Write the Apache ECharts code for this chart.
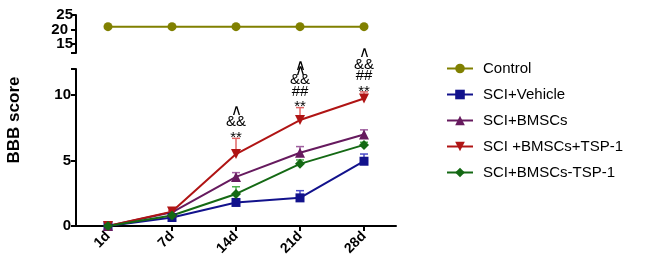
<!DOCTYPE html>
<html>
<head>
<meta charset="utf-8">
<script src="https://cdn.jsdelivr.net/npm/echarts@6/dist/echarts.min.js"></script>
<style>
  html, body { margin: 0; padding: 0; background: #fff; }
  #main { width: 650px; height: 271px; }
</style>
</head>
<body>
<div id="main"></div>
<script>
// time points
var days = ['1d', '7d', '14d', '21d', '28d'];

// BBB scores (mean) per group
var control = [21, 21, 21, 21, 21];
var vehicle = [0, 0.65, 1.8, 2.15, 4.95];
var bmscs = [0, 1.05, 3.75, 5.6, 7.0];
var bmscsTsp = [0, 1.1, 5.5, 8.1, 9.75];
var bmscsMinusTsp = [0, 0.8, 2.45, 4.75, 6.2];

// upper error (SD)
var vehicleErr = [0, 0.15, 0.2, 0.55, 0.55];
var bmscsErr = [0, 0.1, 0.33, 0.47, 0.35];
var bmscsTspErr = [0, 0.1, 1.2, 0.95, 0.5];
var bmscsMinusTspErr = [0, 0.1, 0.55, 0.3, 0.2];

// significance marks above the red group
var marks = ['', '', '∧\n&&\n**', '∧∧\n&&\n##\n**', '∧\n&&\n##\n**'];

// tick labels of the broken y axis
var topTicks = [15, 20, 25];
var bottomTicks = [0, 5, 10];

var chart = echarts.init(document.getElementById('main'), null, { renderer: 'canvas' });

var FONT = '"Liberation Sans", Arial, sans-serif';

function errSeries(name, mean, err, color) {
  return {
    name: name + ' err',
    type: 'custom',
    xAxisIndex: 1,
    yAxisIndex: 1,
    z: 1,
    data: mean.map(function (m, i) { return [i, m, m + err[i]]; }),
    renderItem: function (params, api) {
      var lo = api.coord([api.value(0), api.value(1)]);
      var hi = api.coord([api.value(0), api.value(2)]);
      return {
        type: 'group',
        children: [
          { type: 'line', shape: { x1: lo[0], y1: lo[1], x2: hi[0], y2: hi[1] }, style: { stroke: color, lineWidth: 1.5 } },
          { type: 'line', shape: { x1: hi[0] - 4, y1: hi[1], x2: hi[0] + 4, y2: hi[1] }, style: { stroke: color, lineWidth: 1.5 } }
        ]
      };
    }
  };
}

function markText(t, x, y) {
  return {
    type: 'text',
    style: {
      text: t, x: x, y: y, align: 'center', verticalAlign: 'bottom',
      fontSize: 15, fontFamily: FONT, fill: '#000'
    }
  };
}

var markSeries = {
  name: 'marks',
  type: 'custom',
  xAxisIndex: 1,
  yAxisIndex: 1,
  z: 5,
  silent: true,
  data: bmscsTsp.map(function (m, i) { return [i, m + bmscsTspErr[i]]; }),
  renderItem: function (params, api) {
    var p = api.coord([api.value(0), api.value(1)]);
    var lines = marks[params.dataIndex] ? marks[params.dataIndex].split('\n') : [];
    var lh = 11.5;
    var kids = [];
    lines.forEach(function (ln, k) {
      var y = p[1] + 3 - (lines.length - 1 - k) * lh;
      if (k === lines.length - 1) y += 4;
      if (ln === '∧∧') {
        kids.push(markText('∧', p[0], y - 3));
        kids.push(markText('∧', p[0], y + 2));
      } else {
        kids.push(markText(ln, p[0], y));
      }
    });
    return { type: 'group', children: kids };
  }
};

var axisLine = { show: true, lineStyle: { color: '#000', width: 2 } };
var tickLabel = { color: '#000', fontFamily: FONT, fontWeight: 'bold', fontSize: 15 };

var option = {
  animation: false,
  backgroundColor: '#fff',
  grid: [
    { left: 76, top: 15, width: 320, height: 38 },
    { left: 76, top: 69, width: 320, height: 157 }
  ],
  xAxis: [
    { type: 'category', gridIndex: 0, data: days, show: false },
    {
      type: 'category', gridIndex: 1, data: days,
      axisLine: axisLine,
      axisTick: { show: true, alignWithLabel: true, length: 5, lineStyle: { color: '#000', width: 2 } },
      axisLabel: { color: '#000', fontFamily: FONT, fontWeight: 'bold', fontSize: 14, rotate: 45, margin: 8 }
    }
  ],
  yAxis: [
    {
      type: 'value', gridIndex: 0, min: 12, max: 25, position: 'left',
      splitLine: { show: false },
      axisLine: axisLine,
      axisTick: { show: true, length: 5, lineStyle: { color: '#000', width: 2 }, customValues: [12].concat(topTicks) },
      axisLabel: Object.assign({}, tickLabel, { customValues: [topTicks[0], topTicks[2]], margin: 3 })
    },
    {
      type: 'value', gridIndex: 1, min: 0, max: 12, position: 'left',
      splitLine: { show: false },
      axisLine: axisLine,
      axisTick: { show: true, length: 5, lineStyle: { color: '#000', width: 2 }, customValues: bottomTicks.concat([12]) },
      axisLabel: Object.assign({}, tickLabel, { customValues: bottomTicks, margin: 5 })
    },
    {
      // middle label of the short upper segment (kept apart so it is not thinned out)
      type: 'value', gridIndex: 0, min: 12, max: 25, position: 'left', offset: 0,
      splitLine: { show: false },
      axisLine: { show: false },
      axisTick: { show: false },
      axisLabel: Object.assign({}, tickLabel, { customValues: [topTicks[1]], margin: 8 })
    }
  ],
  legend: {
    orient: 'vertical',
    left: 446,
    top: 61,
    padding: 0,
    itemWidth: 26,
    itemHeight: 12,
    itemGap: 11,
    textStyle: { color: '#000', fontFamily: FONT, fontSize: 15, padding: [0, 0, 0, 5] },
    data: ['Control', 'SCI+Vehicle', 'SCI+BMSCs', 'SCI +BMSCs+TSP-1', 'SCI+BMSCs-TSP-1']
  },
  graphic: [
    {
      type: 'text',
      x: 14,
      y: 120,
      rotation: Math.PI / 2,
      style: { text: 'BBB score', fontSize: 17, fontWeight: 'bold', fontFamily: FONT, fill: '#000', align: 'center', verticalAlign: 'middle' }
    }
  ],
  series: [
    {
      name: 'Control', type: 'line', xAxisIndex: 0, yAxisIndex: 0, data: control,
      symbol: 'circle', symbolSize: 9, z: 3,
      itemStyle: { color: '#808000' }, lineStyle: { color: '#808000', width: 2 }
    },
    errSeries('SCI+Vehicle', vehicle, vehicleErr, '#4a4ac8'),
    errSeries('SCI+BMSCs', bmscs, bmscsErr, '#a060a0'),
    errSeries('SCI +BMSCs+TSP-1', bmscsTsp, bmscsTspErr, '#e06666'),
    errSeries('SCI+BMSCs-TSP-1', bmscsMinusTsp, bmscsMinusTspErr, '#4caf4c'),
    {
      name: 'SCI+Vehicle', type: 'line', xAxisIndex: 1, yAxisIndex: 1, data: vehicle,
      symbol: 'rect', symbolSize: 9, z: 3,
      itemStyle: { color: '#12128c' }, lineStyle: { color: '#12128c', width: 2 }
    },
    {
      name: 'SCI+BMSCs', type: 'line', xAxisIndex: 1, yAxisIndex: 1, data: bmscs,
      symbol: 'triangle', symbolSize: 10, z: 3,
      itemStyle: { color: '#661a5e' }, lineStyle: { color: '#661a5e', width: 2 }
    },
    {
      name: 'SCI +BMSCs+TSP-1', type: 'line', xAxisIndex: 1, yAxisIndex: 1, data: bmscsTsp,
      symbol: 'triangle', symbolRotate: 180, symbolSize: 10, z: 3,
      itemStyle: { color: '#b01414' }, lineStyle: { color: '#b01414', width: 2 }
    },
    {
      name: 'SCI+BMSCs-TSP-1', type: 'line', xAxisIndex: 1, yAxisIndex: 1, data: bmscsMinusTsp,
      symbol: 'diamond', symbolSize: 10, z: 3,
      itemStyle: { color: '#146914' }, lineStyle: { color: '#146914', width: 2 }
    },
    markSeries
  ]
};

chart.setOption(option);
</script>
</body>
</html>
